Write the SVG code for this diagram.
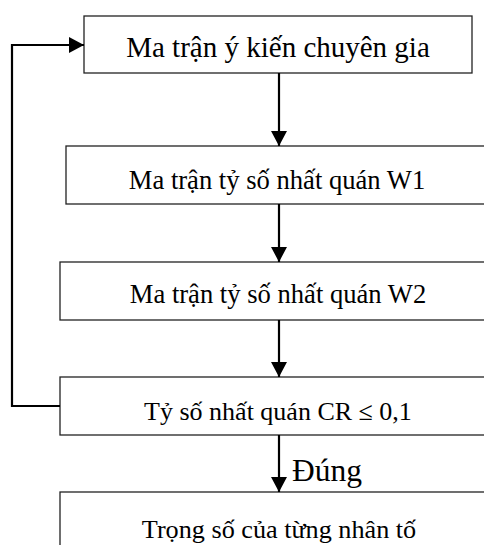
<svg xmlns="http://www.w3.org/2000/svg" width="484" height="545" viewBox="0 0 484 545">
<style>
.box{fill:#fff;stroke:#222;stroke-width:1.3}
.t{font-family:"Liberation Serif","Times New Roman",serif;fill:#000;text-anchor:middle}
.c{fill:none;stroke:#000;stroke-width:2.2}
</style>
<defs>
<marker id="ah" markerUnits="userSpaceOnUse" markerWidth="16" markerHeight="16" refX="15" refY="8" orient="auto">
<path d="M0,0 L15,8 L0,16 Z" fill="#000"/>
</marker>
</defs>
<rect width="484" height="545" fill="#fff"/>
<g id="n1"><rect class="box" x="84" y="16" width="388" height="57"/><text class="t" x="278" y="57" font-size="29">Ma trận ý kiến chuyên gia</text></g>
<g id="n2"><rect class="box" x="66" y="146" width="430" height="58"/><text class="t" x="277" y="189" font-size="26.6">Ma trận tỷ số nhất quán W1</text></g>
<g id="n3"><rect class="box" x="60" y="262" width="440" height="58"/><text class="t" x="278" y="303" font-size="26.6">Ma trận tỷ số nhất quán W2</text></g>
<g id="n4"><rect class="box" x="60" y="377" width="440" height="58"/><text class="t" x="278" y="420" font-size="26">Tỷ số nhất quán CR ≤ 0,1</text></g>
<g id="n5"><rect class="box" x="60" y="492" width="440" height="70"/><text class="t" x="279" y="538" font-size="26.2">Trọng số của từng nhân tố</text></g>
<g id="connectors">
<line class="c" x1="279" y1="73" x2="279" y2="146" marker-end="url(#ah)"/>
<line class="c" x1="279" y1="204" x2="279" y2="262" marker-end="url(#ah)"/>
<line class="c" x1="279" y1="320" x2="279" y2="377" marker-end="url(#ah)"/>
<line class="c" x1="279" y1="435" x2="279" y2="492" marker-end="url(#ah)"/>
<polyline class="c" points="60,406 12,406 12,45 84,45" marker-end="url(#ah)"/>
<text class="t" x="327" y="481" font-size="31.5">Đúng</text>
</g>
</svg>
